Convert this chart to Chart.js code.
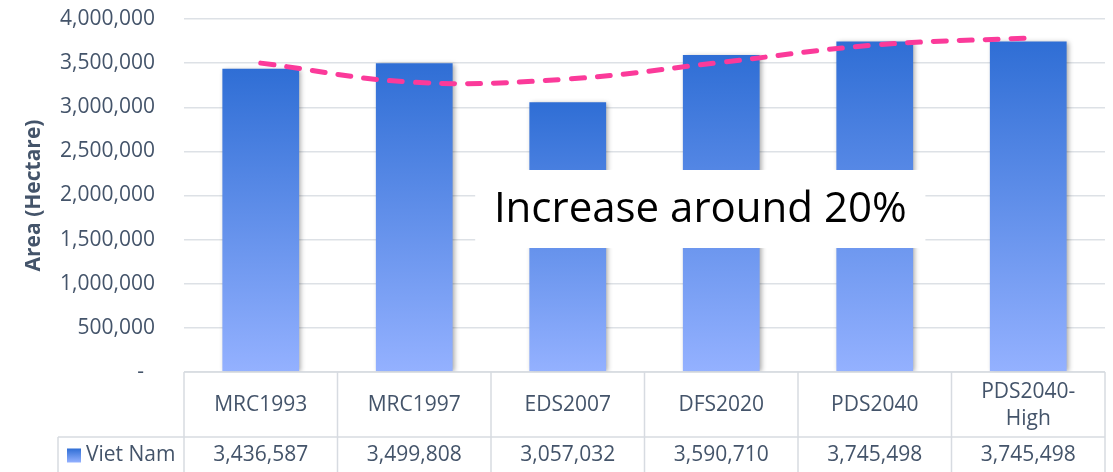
<!DOCTYPE html>
<html><head><meta charset="utf-8">
<script src="https://cdn.jsdelivr.net/npm/chart.js@4.4.0/dist/chart.umd.min.js"></script>
<style>html,body{margin:0;padding:0;background:#fff;}</style>
</head><body>
<canvas id="c" width="1113" height="472" style="display:block;width:1113px;height:472px"></canvas>
<script>
// ---- data ----
const categories = ['MRC1993', 'MRC1997', 'EDS2007', 'DFS2020', 'PDS2040', ['PDS2040-', 'High']];
const seriesName = 'Viet Nam';
const areaValues = [3436587, 3499808, 3057032, 3590710, 3745498, 3745498];
const trendValues = [3500000, 3283000, 3320000, 3509000, 3705000, 3785000];
const yTickValues = [0, 500000, 1000000, 1500000, 2000000, 2500000, 3000000, 3500000, 4000000];
const yTickLabels = ['-  ', '500,000', '1,000,000', '1,500,000', '2,000,000', '2,500,000', '3,000,000', '3,500,000', '4,000,000'];
const yTitle = 'Area (Hectare)';
const noteText = 'Increase around 20%';

// ---- styles ----
const TEXT = '#44546a';
const GRID = '#dde1e6';
const BORDER = '#d7dbe1';
const FONT = '"Open Sans", sans-serif';
const TOP_C = '#2f6ed5', BOT_C = '#94b1ff';

function barGradient(ctx) {
  const chart = ctx.chart;
  if (!chart.chartArea || ctx.type !== 'data') return '#5a8ae8';
  const y = chart.scales.y;
  const top = y.getPixelForValue(ctx.raw);
  const bot = y.getPixelForValue(0);
  const g = chart.ctx.createLinearGradient(0, top, 0, bot);
  g.addColorStop(0, TOP_C);
  g.addColorStop(1, BOT_C);
  return g;
}

const shadowPlugin = {
  id: 'barShadow',
  beforeDatasetDraw(chart, args) {
    if (args.meta.type !== 'bar') return;
    const c = chart.ctx;
    c.save();
    c.shadowColor = 'rgba(0,0,0,0.35)';
    c.shadowBlur = 5;
    c.shadowOffsetX = 2;
    c.shadowOffsetY = 1;
  },
  afterDatasetDraw(chart, args) {
    if (args.meta.type !== 'bar') return;
    chart.ctx.restore();
  }
};

const notePlugin = {
  id: 'note',
  afterDatasetsDraw(chart) {
    const c = chart.ctx, x = chart.scales.x, y = chart.scales.y;
    const l = x.getPixelForValue(1.397), r = x.getPixelForValue(4.33);
    const t = y.getPixelForValue(2289000), b = y.getPixelForValue(1405000);
    c.save();
    c.fillStyle = '#ffffff';
    c.fillRect(l, t, r - l, b - t);
    c.fillStyle = '#000000';
    c.font = '42px ' + FONT;
    c.textAlign = 'center';
    c.textBaseline = 'middle';
    c.fillText(noteText, (l + r) / 2, (t + b) / 2 + 1);
    c.restore();
  }
};

const tablePlugin = {
  id: 'dataTable',
  afterDraw(chart) {
    const c = chart.ctx, x = chart.scales.x, area = chart.chartArea;
    const n = categories.length;
    const step = (area.right - area.left) / n;
    const top = area.bottom, mid = x.bottom, bot = chart.height;
    const legL = 58;
    c.save();
    c.strokeStyle = BORDER;
    c.lineWidth = 1.5;
    c.beginPath();
    c.moveTo(area.left, top); c.lineTo(area.right, top);
    c.moveTo(legL, mid); c.lineTo(area.right, mid);
    for (let i = 0; i <= n; i++) {
      const px = area.left + i * step;
      c.moveTo(px, top); c.lineTo(px, bot);
    }
    c.moveTo(legL, mid); c.lineTo(legL, bot);
    c.stroke();
    // values row
    c.fillStyle = TEXT;
    c.font = '21px ' + FONT;
    c.textAlign = 'center';
    c.textBaseline = 'middle';
    const vy = (mid + bot) / 2 + 1;
    areaValues.forEach((v, i) => {
      c.fillText(v.toLocaleString('en-US'), x.getPixelForValue(i), vy);
    });
    // legend cell
    const g = c.createLinearGradient(0, vy - 7, 0, vy + 7);
    g.addColorStop(0, TOP_C); g.addColorStop(1, BOT_C);
    c.fillStyle = g;
    c.fillRect(67, vy - 7, 14, 14);
    c.fillStyle = TEXT;
    c.textAlign = 'left';
    c.fillText(seriesName, 86, vy);
    c.restore();
  }
};

new Chart(document.getElementById('c'), {
  data: {
    labels: categories,
    datasets: [
      {
        type: 'line',
        label: 'Trend',
        data: trendValues,
        borderColor: '#fb3a9a',
        borderWidth: 5,
        borderDash: [13, 13],
        borderCapStyle: 'round',
        tension: 0.4,
        pointRadius: 0,
        fill: false,
        order: 0
      },
      {
        type: 'bar',
        label: seriesName,
        data: areaValues,
        backgroundColor: barGradient,
        borderWidth: 0,
        categoryPercentage: 0.5,
        barPercentage: 1.0,
        order: 1
      }
    ]
  },
  options: {
    responsive: false,
    animation: false,
    devicePixelRatio: 1,
    layout: { padding: { top: 19, right: 8, bottom: 35, left: 0 } },
    plugins: { legend: { display: false }, tooltip: { enabled: false } },
    scales: {
      x: {
        grid: { display: false, drawTicks: false },
        border: { display: false },
        ticks: {
          color: TEXT,
          font: { family: FONT, size: 21, lineHeight: 1.286 },
          padding: 20,
          crossAlign: 'center',
          maxRotation: 0,
          autoSkip: false
        },
        afterFit(s) {
          s.height = 65;
          s.paddingTop = 0; s.paddingBottom = 0; s.paddingLeft = 0; s.paddingRight = 0;
        }
      },
      y: {
        min: 0,
        max: 4000000,
        afterBuildTicks(s) { s.ticks = yTickValues.map(v => ({ value: v })); },
        grid: { color: GRID, lineWidth: 1.5, drawTicks: false },
        border: { display: false },
        ticks: {
          color: TEXT,
          font: { family: FONT, size: 21 },
          padding: 29,
          callback(v) { const i = yTickValues.indexOf(v); return i >= 0 ? yTickLabels[i] : ''; }
        },
        title: {
          display: true,
          text: yTitle,
          color: TEXT,
          font: { family: FONT, size: 21, weight: 'bold' },
          padding: { top: 21, bottom: 0 }
        },
        afterFit(s) {
          s.width = 184;
          s.paddingTop = 0; s.paddingBottom = 0; s.paddingLeft = 0; s.paddingRight = 0;
        }
      }
    }
  },
  plugins: [shadowPlugin, notePlugin, tablePlugin]
});
</script>
</body></html>
